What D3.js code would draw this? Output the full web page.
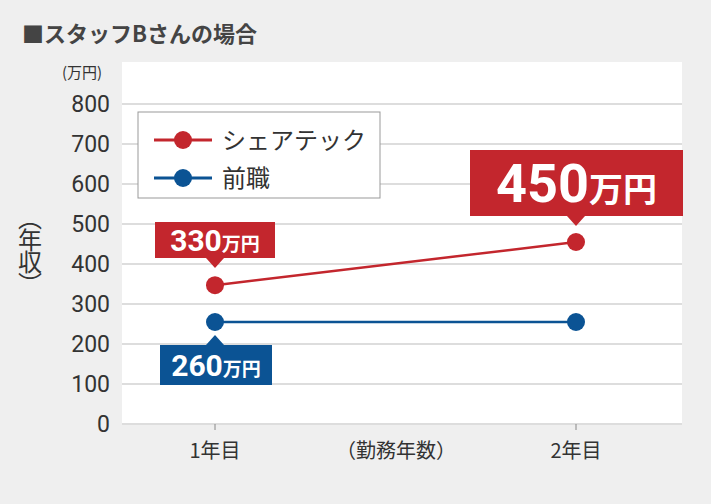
<!DOCTYPE html>
<html><head><meta charset="utf-8">
<script src="https://cdn.jsdelivr.net/npm/d3@7"></script>
<style>body{margin:0;background:#efefef;font-family:"Noto Sans CJK JP","Noto Sans",sans-serif;}</style>
</head><body><svg id="chart" width="711" height="504"></svg>
<script>
const years = ["1年目", "2年目"];
const shareTech = [347, 455];
const previous = [255, 255];
const shareTechLabels = ["330", "450"];
const previousLabels = ["260"];
const yTicks = [0, 100, 200, 300, 400, 500, 600, 700, 800];
const seriesNames = ["シェアテック", "前職"];

const red = "#c3262d", blue = "#0b5394", ink = "#333";
const svg = d3.select("#chart");
svg.append("rect").attr("width", 711).attr("height", 504).attr("fill", "#efefef");

// plot area
svg.append("rect").attr("x", 122).attr("y", 62).attr("width", 560).attr("height", 363).attr("fill", "#fff");

const x = d3.scalePoint().domain(years).range([215, 576]);
const y = d3.scaleLinear().domain([0, 800]).range([424, 104]);

// gridlines
svg.append("g").selectAll("line").data(yTicks).join("line")
  .attr("x1", 122).attr("x2", 682)
  .attr("y1", d => y(d)).attr("y2", d => y(d))
  .attr("stroke", "#bbb").attr("stroke-width", 1);

// vertical ticks under x positions
svg.append("g").selectAll("line").data(years).join("line")
  .attr("x1", d => x(d)).attr("x2", d => x(d))
  .attr("y1", 424).attr("y2", 430).attr("stroke", "#888");

// y tick labels
svg.append("g").selectAll("text").data(yTicks).join("text")
  .attr("x", 110).attr("y", d => y(d) + 8)
  .attr("text-anchor", "end").attr("font-size", 23).attr("fill", ink)
  .attr("font-family", "Roboto, sans-serif")
  .text(d => d);

// x labels
svg.append("g").selectAll("text").data(years).join("text")
  .attr("x", d => x(d)).attr("y", 458).attr("text-anchor", "middle")
  .attr("font-size", 20).attr("fill", ink).text(d => d);
svg.append("text").attr("x", 396).attr("y", 458).attr("text-anchor", "middle")
  .attr("font-size", 20).attr("fill", ink).text("（勤務年数）");

// title, unit, y title
svg.append("text").attr("x", 22).attr("y", 42).attr("font-size", 22).attr("font-weight", "bold")
  .attr("fill", "#444").text("■スタッフBさんの場合");
svg.append("text").attr("x", 62).attr("y", 78).attr("font-size", 15).attr("fill", ink).text("(万円)");
svg.append("text").attr("transform", "translate(30,250)")
  .attr("writing-mode", "tb").attr("text-anchor", "middle")
  .attr("font-size", 24).attr("fill", ink).attr("letter-spacing", -2).text("（年収）");

// lines
const line = d3.line().x((d, i) => x(years[i])).y(d => y(d));
[[previous, blue], [shareTech, red]].forEach(([vals, c]) => {
  svg.append("path").datum(vals).attr("d", line).attr("fill", "none")
    .attr("stroke", c).attr("stroke-width", 2.5);
  svg.append("g").selectAll("circle").data(vals).join("circle")
    .attr("cx", (d, i) => x(years[i])).attr("cy", d => y(d)).attr("r", 9).attr("fill", c);
});

// legend
svg.append("rect").attr("x", 138).attr("y", 112).attr("width", 242).attr("height", 86)
  .attr("fill", "#fff").attr("stroke", "#999");
[[red, 0], [blue, 1]].forEach(([c, i]) => {
  const ly = 140 + i * 38;
  svg.append("line").attr("x1", 154).attr("x2", 212).attr("y1", ly).attr("y2", ly)
    .attr("stroke", c).attr("stroke-width", 3);
  svg.append("circle").attr("cx", 183).attr("cy", ly).attr("r", 9).attr("fill", c);
  svg.append("text").attr("x", 222).attr("y", ly + 9).attr("font-size", 24).attr("fill", ink).text(seriesNames[i]);
});

// callouts
function callout(cx, bx, by, bw, bh, color, num, numSize, unitSize, down) {
  const g = svg.append("g");
  g.append("rect").attr("x", bx).attr("y", by).attr("width", bw).attr("height", bh).attr("fill", color);
  const py = down ? by + bh : by;
  const tip = down ? py + 10 : py - 10;
  g.append("path").attr("d", `M${cx - 9},${py} L${cx},${tip} L${cx + 9},${py} Z`).attr("fill", color);
  const t = g.append("text").attr("x", bx + bw / 2).attr("y", by + bh / 2 + numSize * 0.36)
    .attr("text-anchor", "middle").attr("fill", "#fff").attr("font-weight", "bold");
  t.append("tspan").attr("font-size", numSize).attr("font-family", "Roboto, sans-serif").text(num);
  t.append("tspan").attr("font-size", unitSize).text("万円");
}
callout(x(years[0]), 155, 222, 120, 36, red, shareTechLabels[0], 30, 19, true);
callout(x(years[1]), 470, 150, 213, 66, red, shareTechLabels[1], 54, 34, true);
callout(x(years[0]), 160, 345, 112, 40, blue, previousLabels[0], 30, 19, false);
</script></body></html>
